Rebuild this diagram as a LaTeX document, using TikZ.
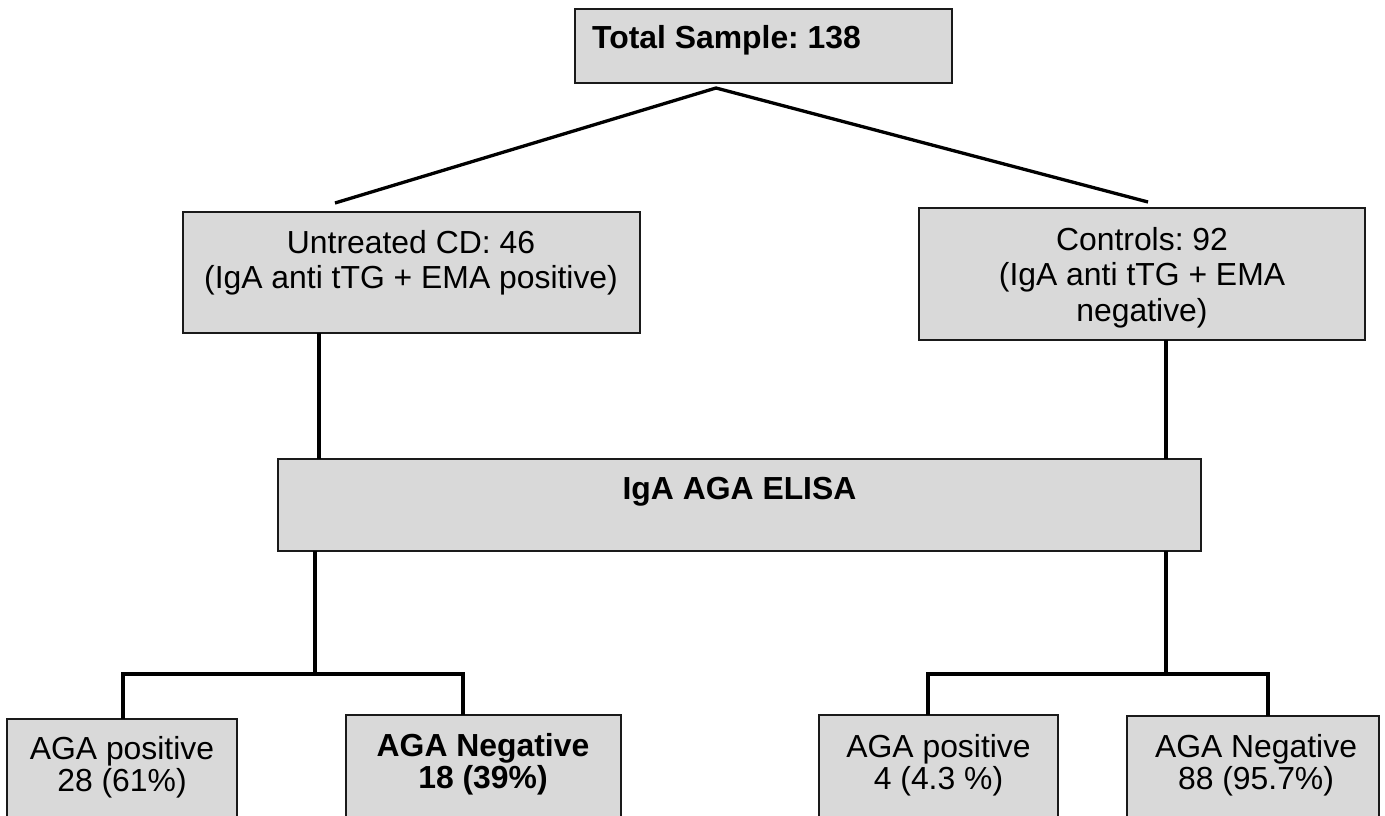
\documentclass[tikz,border=0pt]{standalone}
\usepackage{fontspec}
\setmainfont{Liberation Sans}
\frenchspacing
\definecolor{boxfill}{HTML}{D9D9D9}
\definecolor{boxline}{HTML}{1A1A1A}
\tikzset{
  box/.style={rectangle, draw=boxline, fill=boxfill, line width=1.2bp,
              inner sep=0pt, outer sep=0pt},
  conn/.style={draw=black, line width=3.3bp},
  lbl/.style={inner sep=0pt, anchor=base, font=\fontsize{32}{36}\selectfont},
  lblsm/.style={inner sep=0pt, anchor=base, font=\fontsize{32}{33}\selectfont}
}
\begin{document}
\begin{tikzpicture}[x=1bp, y=-1bp]
\useasboundingbox (0,0) rectangle (1385,815);
\begin{scope}
\clip (0,0) rectangle (1385,815);

% boxes
\node[box, minimum width=377bp, minimum height=74bp]  (top)   at (763.5,46)    {};
\node[box, minimum width=457bp, minimum height=121bp] (cd)    at (411.5,272.5) {};
\node[box, minimum width=446bp, minimum height=132bp] (ctrl)  at (1142,274)    {};
\node[box, minimum width=923bp, minimum height=92bp]  (elisa) at (739.5,505)   {};
\node[box, minimum width=230bp, minimum height=121bp] (b1)    at (122,779.5)   {};
\node[box, minimum width=275bp, minimum height=125bp] (b2)    at (483.5,777.5) {};
\node[box, minimum width=239bp, minimum height=125bp] (b3)    at (938.5,777.5) {};
\node[box, minimum width=252bp, minimum height=124bp] (b4)    at (1253,778)    {};

% labels
\node[lbl, anchor=base west] (topt) at (592,49) {\bfseries Total Sample: 138};
\node[lbl] (cdt) at (411,253)
  {\begin{tabular}[t]{@{}c@{}}Untreated CD: 46\\(IgA anti tTG + EMA positive)\end{tabular}};
\node[lbl] (ctrlt) at (1142,250)
  {\begin{tabular}[t]{@{}c@{}}Controls: 92\\(IgA anti tTG + EMA\\negative)\end{tabular}};
\node[lbl] (elisat) at (739.5,499) {\bfseries IgA AGA ELISA};
\node[lblsm] (b1t) at (122,759)
  {\begin{tabular}[t]{@{}c@{}}AGA positive\\28 (61\%)\end{tabular}};
\node[lblsm] (b2t) at (483,756)
  {\begin{tabular}[t]{@{}c@{}}\bfseries AGA Negative\\\bfseries 18 (39\%)\end{tabular}};
\node[lblsm] (b3t) at (938.5,757)
  {\begin{tabular}[t]{@{}c@{}}AGA positive\\4 (4.3 \%)\end{tabular}};
\node[lblsm] (b4t) at (1256,757)
  {\begin{tabular}[t]{@{}c@{}}AGA Negative\\88 (95.7\%)\end{tabular}};

% connector end points
\coordinate (apex) at (716,88);
\coordinate (splitL) at (335,203);
\coordinate (splitR) at (1148,202);
\coordinate (stemL) at (319,0);
\coordinate (stemR) at (1166,0);
\coordinate (lowL) at (315,674);
\coordinate (lowR) at (1166,674);
\coordinate (barLa) at (123,674);
\coordinate (barLb) at (463,674);
\coordinate (barRa) at (928,674);
\coordinate (barRb) at (1268,674);

% connectors
\draw[conn] (splitL) -- (apex) -- (splitR);
\draw[conn] (cd.south -| stemL) -- (elisa.north -| stemL);
\draw[conn] (ctrl.south -| stemR) -- (elisa.north -| stemR);
\draw[conn] (elisa.south -| lowL) -- (lowL);
\draw[conn] (elisa.south -| lowR) -- (lowR);
\draw[conn] (b1.north -| barLa) -- (barLa) -- (barLb) -- (b2.north -| barLb);
\draw[conn] (b3.north -| barRa) -- (barRa) -- (barRb) -- (b4.north -| barRb);
\end{scope}
\end{tikzpicture}
\end{document}
